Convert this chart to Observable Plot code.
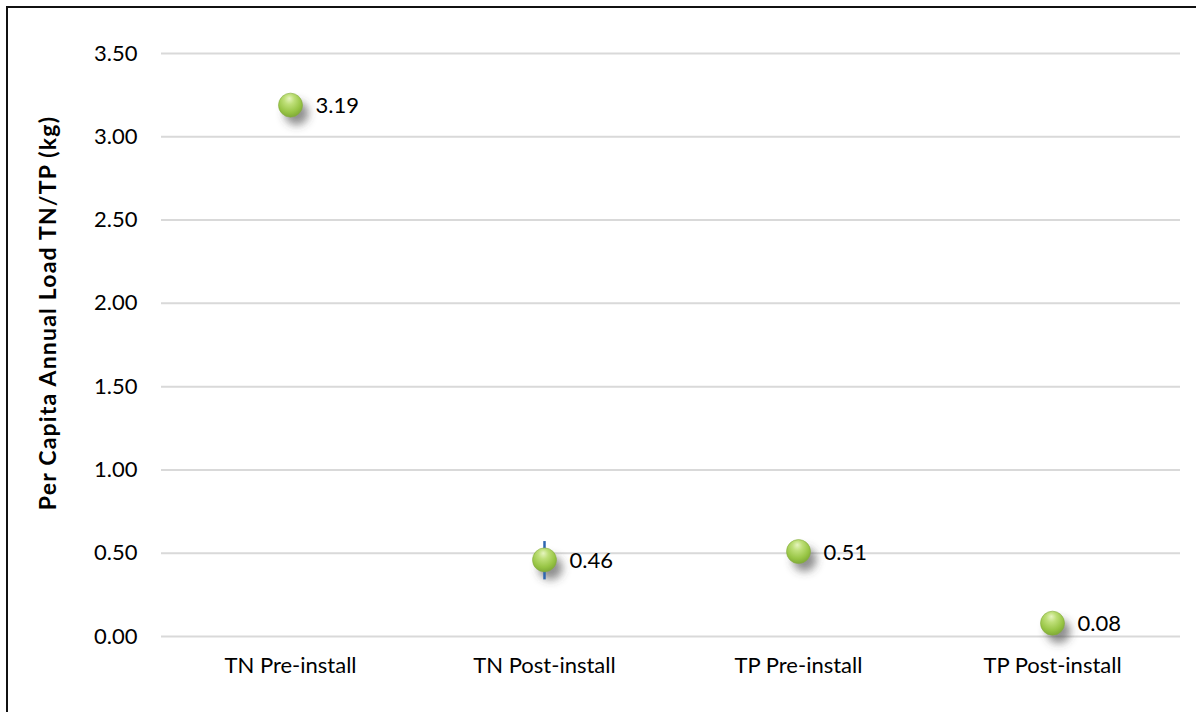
<!DOCTYPE html>
<html>
<head>
<meta charset="utf-8">
<script src="https://cdn.jsdelivr.net/npm/d3@7"></script>
<script src="https://cdn.jsdelivr.net/npm/@observablehq/plot@0.6"></script>
<style>
  html, body { margin: 0; padding: 0; background: #fff; }
  #wrap { position: relative; width: 1196px; height: 712px; overflow: hidden; }
  #frame { position: absolute; left: 6px; top: 6px; width: 1300px; height: 800px;
           border-left: 2px solid #111; border-top: 2px solid #111; box-sizing: border-box; pointer-events: none; }
  #chart { position: absolute; left: 0; top: 0; }
</style>
</head>
<body>
<div id="wrap"><div id="chart"></div><div id="frame"></div></div>
<script>
const categories = ["TN Pre-install", "TN Post-install", "TP Pre-install", "TP Post-install"];
const values = [3.19, 0.46, 0.51, 0.08];
const labels = ["3.19", "0.46", "0.51", "0.08"];
const errCategories = ["TN Post-install"];
const errLow = [0.34];
const errHigh = [0.57];
const yTicks = [0, 0.5, 1, 1.5, 2, 2.5, 3, 3.5];
const yTitle = "Per Capita Annual Load TN/TP (kg)";

const points = categories.map((c, i) => ({cat: c, value: values[i], label: labels[i]}));
const errs = errCategories.map((c, i) => ({cat: c, lo: errLow[i], hi: errHigh[i]}));

const font = "Lato, 'Open Sans', sans-serif";

const plot = Plot.plot({
  width: 1196,
  height: 712,
  marginLeft: 161,
  marginRight: 16,
  marginTop: 53,
  marginBottom: 76,
  style: {fontFamily: font, fontSize: "22px", color: "#000", background: "transparent"},
  x: {type: "point", domain: categories, padding: 0.5},
  y: {domain: [0, 3.5]},
  marks: [
    Plot.ruleY(yTicks, {stroke: "#d9d9d9", strokeWidth: 2}),
    Plot.axisY({ticks: yTicks, tickSize: 0, tickPadding: 24, tickFormat: d => d.toFixed(2), label: null, fontSize: 22}),
    Plot.axisX({tickSize: 0, tickPadding: 21, label: null, fontSize: 22}),
    Plot.text([yTitle], {frameAnchor: "left", dx: -113, dy: -32, rotate: -90, textAnchor: "middle", fontWeight: "bold", fontSize: 23, fill: "#000"}),
    Plot.dot(points, {x: "cat", y: "value", r: 12, fill: "#444", fillOpacity: 0.6, dx: 6, dy: 8}),
    Plot.ruleX(errs, {x: "cat", y1: "lo", y2: "hi", stroke: "#2f66b0", strokeWidth: 2.5}),
    Plot.dot(points, {x: "cat", y: "value", r: 12, fill: "url(#sphere)", stroke: "#86ad40", strokeWidth: 0.6}),
    Plot.text(points, {x: "cat", y: "value", text: "label", dx: 25, dy: 1, textAnchor: "start", fontSize: 22, fill: "#000"})
  ]
});

const ns = "http://www.w3.org/2000/svg";
const defs = document.createElementNS(ns, "defs");
defs.innerHTML = `
  <radialGradient id="sphere" cx="0.45" cy="0.35" r="0.7" fx="0.45" fy="0.22">
    <stop offset="0" stop-color="#e6f4bf"/>
    <stop offset="0.3" stop-color="#bedf78"/>
    <stop offset="0.7" stop-color="#98c545"/>
    <stop offset="1" stop-color="#7aa533"/>
  </radialGradient>
  <filter id="blur" x="-80%" y="-80%" width="260%" height="260%">
    <feGaussianBlur stdDeviation="4"/>
  </filter>`;
plot.insertBefore(defs, plot.firstChild);
const dotGroups = plot.querySelectorAll('g[aria-label="dot"]');
if (dotGroups.length) dotGroups[0].setAttribute("filter", "url(#blur)");
plot.querySelectorAll('g[aria-label="text"] text').forEach(t => {
  if (t.textContent === yTitle) t.style.letterSpacing = "1.2px";
});

document.getElementById("chart").appendChild(plot);
</script>
</body>
</html>
